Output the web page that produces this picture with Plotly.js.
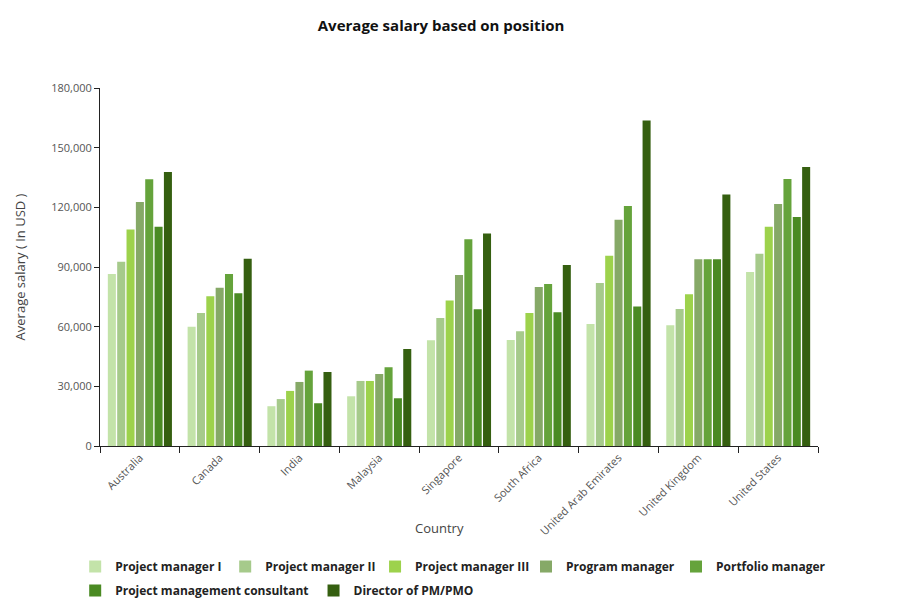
<!DOCTYPE html>
<html><head><meta charset="utf-8">
<script src="https://cdn.plot.ly/plotly-3.0.1.min.js"></script>
<style>body{margin:0;background:#fff}#chart{width:917px;height:612px}</style>
</head><body><div id="chart"></div>
<script>
const countries = ["Australia","Canada","India","Malaysia","Singapore","South Africa","United Arab Emirates","United Kingdom","United States"];
const positions = ["Project manager I","Project manager II","Project manager III","Program manager","Portfolio manager","Project management consultant","Director of PM/PMO"];
const pm1        = [86500, 60000, 20000, 25000, 53200, 53300, 61400, 60700, 87500];
const pm2        = [92700, 66900, 23600, 32700, 64400, 57700, 82000, 68900, 96700];
const pm3        = [108800, 75300, 27700, 32700, 73100, 66900, 95600, 76300, 110200];
const program    = [122700, 79600, 32200, 36200, 86000, 80000, 113700, 93900, 121700];
const portfolio  = [134100, 86500, 37900, 39600, 104000, 81500, 120700, 93900, 134300];
const consultant = [110300, 76800, 21500, 24000, 68700, 67200, 70100, 93900, 115200];
const director   = [137800, 94100, 37200, 48800, 106800, 91000, 163600, 126400, 140300];
const colors = ["#c3e3a9","#a6ca8b","#9dd24c","#86a967","#65a33b","#4a8a23","#355f10"];
const series = [pm1, pm2, pm3, program, portfolio, consultant, director];
const legendOf = ["legend","legend","legend4","legend3","legend3","legend2","legend2"];
const font = "Open Sans, DejaVu Sans, sans-serif";

const data = series.map((vals, i) => ({
  type: "bar", name: positions[i], x: countries, y: vals,
  marker: {color: colors[i]},
  legend: legendOf[i],
  hoverinfo: "x+y+name"
}));

const legendFont = {family: font, size: 12, color: "#222", weight: "bold"};
const legBase = {orientation: "h", xref: "container", xanchor: "left", yref: "container", yanchor: "top",
                 itemwidth: 30, font: legendFont, bgcolor: "rgba(0,0,0,0)", tracegroupgap: 0};
const layout = {
  width: 917, height: 612,
  margin: {l: 100, r: 99, t: 88, b: 166, autoexpand: false},
  paper_bgcolor: "#fff", plot_bgcolor: "#fff",
  title: {text: "<b>Average salary based on position</b>", x: 0.481, xanchor: "center", y: 0.958, yanchor: "middle",
          font: {family: font, size: 15, color: "#111"}},
  barmode: "group", bargap: 0.18, bargroupgap: 0.14,
  xaxis: {
    type: "category", tickson: "boundaries", ticks: "outside", ticklen: 6, tickcolor: "#222",
    showline: true, linecolor: "#222", linewidth: 1, showgrid: false, automargin: false,
    tickangle: -45, tickfont: {family: font, size: 11, color: "#555"},
    fixedrange: true
  },
  yaxis: {
    range: [0, 180000], tickvals: [0,30000,60000,90000,120000,150000,180000],
    tickformat: ",d", ticks: "outside", ticklen: 5, tickcolor: "#222",
    showline: true, linecolor: "#222", linewidth: 1, showgrid: false, zeroline: false, automargin: false,
    tickfont: {family: font, size: 11, color: "#555"},
    title: {text: "Average salary ( In USD )", font: {family: font, size: 13, color: "#444"}, standoff: 22},
    fixedrange: true
  },
  annotations: [{text: "Country", xref: "paper", yref: "paper", x: 0.473, y: -0.229,
                 xanchor: "center", yanchor: "middle", showarrow: false,
                 font: {family: font, size: 13, color: "#444"}}],
  showlegend: true,
  legend:  Object.assign({}, legBase, {x: 0.082, y: 0.098, entrywidth: 105, entrywidthmode: "pixels"}),
  legend4: Object.assign({}, legBase, {x: 0.409, y: 0.098}),
  legend3: Object.assign({}, legBase, {x: 0.5736, y: 0.098, entrywidth: 105, entrywidthmode: "pixels"}),
  legend2: Object.assign({}, legBase, {x: 0.082, y: 0.059})
};
Plotly.newPlot("chart", data, layout, {displayModeBar: false});
</script></body></html>
